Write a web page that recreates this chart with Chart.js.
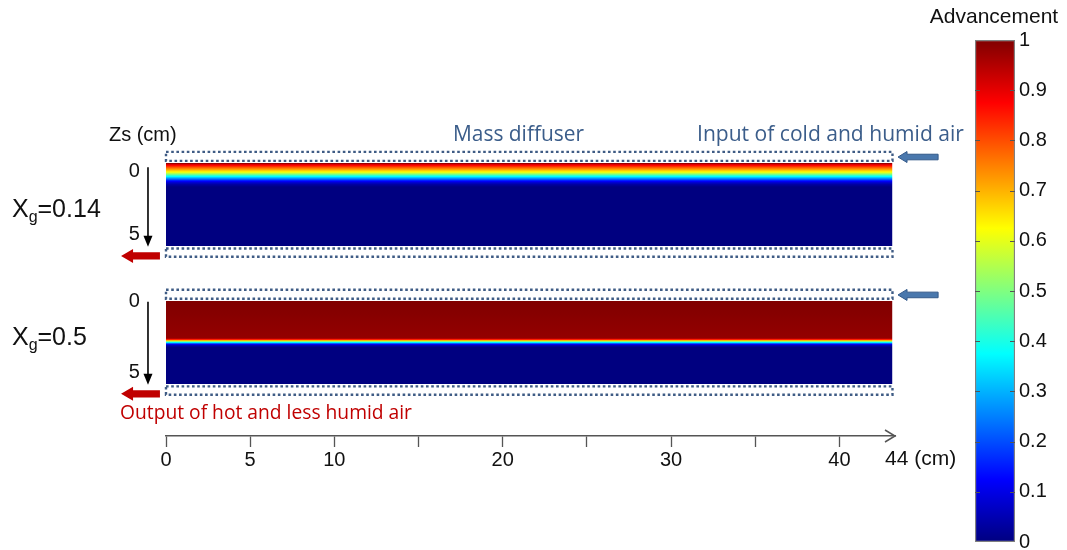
<!DOCTYPE html>
<html><head><meta charset="utf-8">
<script src="https://cdn.jsdelivr.net/npm/chart.js@4/dist/chart.umd.min.js"></script>
<style>
html,body{margin:0;padding:0;background:#fff;overflow:hidden;width:1067px;height:550px}
#main{position:absolute;left:0;top:0;width:1067px;height:550px}
#cb{position:absolute;left:921px;top:0;width:146px;height:550px}
</style></head><body>
<div id="main"><canvas id="c1" width="1067" height="550"></canvas></div>
<div id="cb"><canvas id="c2" width="146" height="550"></canvas></div>
<script>
// ---------------- data ----------------
const xgLabels = ['0.14', '0.5'];                 // gas mole fraction of each case
const channelLength = 43.15;                       // cm, drawn length of the bed
const axisEnd = 43.3;                              // cm, end of the x arrow
const panelOffset = [0, 8.31];                     // layout position (cm) of Zs = 0 for each case
// advancement profile vs depth Zs (cm), case Xg = 0.14
const depthA = [0, 0.1, 0.25, 0.4, 0.55, 0.65, 0.75, 0.85, 0.95, 1.05, 1.15, 1.3, 1.45, 5];
const advA   = [1.0, 0.9, 0.8, 0.71, 0.62, 0.53, 0.43, 0.34, 0.25, 0.16, 0.09, 0.03, 0, 0];
// advancement profile vs depth Zs (cm), case Xg = 0.5
const depthB = [0, 2.25, 2.35, 2.45, 2.55, 2.65, 2.8, 5];
const advB   = [1.0, 0.98, 0.8, 0.5, 0.25, 0.06, 0, 0];
const xTicks = [0, 5, 10, 15, 20, 25, 30, 35, 40];
const xTickLabels = ['0', '5', '10', '', '20', '', '30', '', '40'];
const cbTicks = [0, 0.1, 0.2, 0.3, 0.4, 0.5, 0.6, 0.7, 0.8, 0.9, 1];
const cbTickLabels = ['0', '0.1', '0.2', '0.3', '0.4', '0.5', '0.6', '0.7', '0.8', '0.9', '1'];

// ---------------- helpers ----------------
function clamp01(v){ return Math.max(0, Math.min(1, v)); }
function jet(v){
  v = clamp01(v);
  const r = clamp01(1.5 - Math.abs(4*v - 3));
  const g = clamp01(1.5 - Math.abs(4*v - 2));
  const b = clamp01(1.5 - Math.abs(4*v - 1));
  return 'rgb(' + Math.round(r*255) + ',' + Math.round(g*255) + ',' + Math.round(b*255) + ')';
}
function profileGradient(chart, offset, depths, advs){
  const ca = chart.chartArea;
  if (!ca) return jet(0);
  const y = chart.scales.y;
  const p0 = y.getPixelForValue(offset), p1 = y.getPixelForValue(offset + 5);
  const g = chart.ctx.createLinearGradient(0, p0, 0, p1);
  for (let i = 0; i < depths.length - 1; i++) {
    const n = 8;
    for (let k = 0; k < n; k++) {
      const t = k / n;
      const d = depths[i] + (depths[i+1] - depths[i]) * t;
      const a = advs[i] + (advs[i+1] - advs[i]) * t;
      g.addColorStop(clamp01(d / 5), jet(a));
    }
  }
  g.addColorStop(1, jet(advs[advs.length - 1]));
  return g;
}
function fitSize(ctx, text, family, target){
  ctx.font = '20px ' + family;
  return 20 * target / ctx.measureText(text).width;
}
function leftArrow(ctx, tipX, tailX, cy, headLen, headHalf, shaftHalf, fill, stroke){
  ctx.beginPath();
  ctx.moveTo(tipX, cy);
  ctx.lineTo(tipX + headLen, cy - headHalf);
  ctx.lineTo(tipX + headLen, cy - shaftHalf);
  ctx.lineTo(tailX, cy - shaftHalf);
  ctx.lineTo(tailX, cy + shaftHalf);
  ctx.lineTo(tipX + headLen, cy + shaftHalf);
  ctx.lineTo(tipX + headLen, cy + headHalf);
  ctx.closePath();
  ctx.fillStyle = fill; ctx.fill();
  if (stroke){ ctx.strokeStyle = stroke; ctx.lineWidth = 1; ctx.stroke(); }
}

const ARIAL = '"Liberation Sans", Arial, sans-serif';
const CAL = '"Open Sans", sans-serif';

// annotation plugin: diffusers, arrows, labels
const annotations = {
  id: 'annotations',
  afterDraw(chart){
    const ctx = chart.ctx, xs = chart.scales.x, ys = chart.scales.y;
    const X = v => xs.getPixelForValue(v), Y = v => ys.getPixelForValue(v);
    ctx.save();
    // dotted mass-diffuser strips
    ctx.strokeStyle = '#3f5c85'; ctx.lineWidth = 2.4; ctx.setLineDash([2.6, 2.6]);
    panelOffset.forEach(o => {
      [[o - 0.67, o - 0.13], [o + 5.15, o + 5.65]].forEach(([a, b]) => {
        ctx.strokeRect(X(0), Y(a), X(channelLength) - X(0), Y(b) - Y(a));
      });
    });
    ctx.setLineDash([]);
    const zeroLabelZ = [0.83, 0.34];
    const xgBaseZ = [3.23, 2.65];
    panelOffset.forEach((o, i) => {
      // inflow arrow (blue)
      leftArrow(ctx, X(43.48), X(45.86), Y(o - 0.36), 9, 5.5, 2.8, '#4a78ad', '#33598a');
      // outflow arrow (red)
      leftArrow(ctx, X(-2.67), X(-0.36), Y(o + 5.6), 12, 7, 3.6, '#c00000', null);
      // depth arrow (black)
      const ax = X(-1.07), y0 = Y(o + (i === 0 ? 0.25 : 0.05)), y1 = Y(o + 5.05);
      ctx.strokeStyle = '#000'; ctx.lineWidth = 1.6;
      ctx.beginPath(); ctx.moveTo(ax, y0); ctx.lineTo(ax, y1 - 9); ctx.stroke();
      ctx.fillStyle = '#000';
      ctx.beginPath(); ctx.moveTo(ax - 4.5, y1 - 11); ctx.lineTo(ax + 4.5, y1 - 11); ctx.lineTo(ax, y1); ctx.closePath(); ctx.fill();
      // depth labels
      ctx.fillStyle = '#111'; ctx.font = '20px ' + ARIAL; ctx.textAlign = 'right'; ctx.textBaseline = 'alphabetic';
      ctx.fillText('0', X(-1.55), Y(o + zeroLabelZ[i]));
      ctx.fillText('5', X(-1.55), Y(o + 4.64));
      // Xg labels
      let x = X(-9.15); const by = Y(o + xgBaseZ[i]);
      ctx.textAlign = 'left';
      ctx.font = '25px ' + ARIAL; ctx.fillText('X', x, by); x += ctx.measureText('X').width;
      ctx.font = '16px ' + ARIAL; ctx.fillText('g', x, by + 5); x += ctx.measureText('g').width;
      ctx.font = '25px ' + ARIAL; ctx.fillText('=' + xgLabels[i], x, by);
    });
    // Zs (cm)
    ctx.fillStyle = '#111'; ctx.textAlign = 'left'; ctx.font = '20px ' + ARIAL;
    ctx.fillText('Zs (cm)', X(-3.39), Y(-1.3));
    // blue / red texts
    const blue = '#3b5d8a';
    let s = fitSize(ctx, 'Mass diffuser', CAL, 131);
    ctx.font = s.toFixed(2) + 'px ' + CAL; ctx.fillStyle = blue;
    ctx.fillText('Mass diffuser', X(17.05), Y(-1.3));
    s = fitSize(ctx, 'Input of cold and humid air', CAL, 267);
    ctx.font = s.toFixed(2) + 'px ' + CAL;
    ctx.fillText('Input of cold and humid air', X(31.54), Y(-1.3));
    s = fitSize(ctx, 'Output of hot and less humid air', CAL, 292);
    ctx.font = s.toFixed(2) + 'px ' + CAL; ctx.fillStyle = '#c00000';
    ctx.fillText('Output of hot and less humid air', X(-2.73), Y(15.42));
    // x-axis arrow head and end label
    const ay = chart.chartArea.bottom, ex = X(axisEnd);
    ctx.strokeStyle = '#555'; ctx.lineWidth = 1.5;
    ctx.beginPath(); ctx.moveTo(ex - 10, ay - 6); ctx.lineTo(ex, ay); ctx.lineTo(ex - 10, ay + 6); ctx.stroke();
    ctx.fillStyle = '#111'; ctx.font = '21px ' + ARIAL; ctx.textAlign = 'left';
    ctx.fillText('44 (cm)', ex - 10, ay + 29);
    ctx.restore();
  }
};

const invisible = 'rgba(0,0,0,0)';
function boundary(y, fillOpt, bg){
  return { data: [{x: 0, y: y}, {x: channelLength, y: y}], borderColor: invisible, borderWidth: 0,
           pointRadius: 0, fill: fillOpt, backgroundColor: bg, tension: 0 };
}

new Chart(document.getElementById('c1'), {
  type: 'line',
  data: { datasets: [
    boundary(panelOffset[0], false, invisible),
    boundary(panelOffset[0] + 5, '-1', c => profileGradient(c.chart, panelOffset[0], depthA, advA)),
    boundary(panelOffset[1], false, invisible),
    boundary(panelOffset[1] + 5, '-1', c => profileGradient(c.chart, panelOffset[1], depthB, advB))
  ]},
  options: {
    responsive: false, animation: false, devicePixelRatio: 1,
    layout: { padding: { left: 166, right: 172, top: 163, bottom: 77 } },
    plugins: { legend: { display: false }, tooltip: { enabled: false } },
    scales: {
      x: { type: 'linear', min: 0, max: axisEnd,
           afterBuildTicks: s => { s.ticks = xTicks.map(v => ({ value: v })); },
           ticks: { callback: (v, i) => xTickLabels[i], autoSkip: false, maxRotation: 0,
                    font: { family: ARIAL, size: 20 }, color: '#111', padding: 1 },
           grid: { drawOnChartArea: false, tickLength: 11, tickColor: '#555', tickWidth: 1.3 },
           border: { color: '#555', width: 1.5 } },
      y: { type: 'linear', display: false, reverse: true, min: 0, max: 16.45 }
    }
  },
  plugins: [annotations]
});

// ---------------- colour bar ----------------
const cbExtras = {
  id: 'cbExtras',
  afterDatasetsDraw(chart){
    const ctx = chart.ctx, ca = chart.chartArea, y = chart.scales.y;
    ctx.save(); ctx.strokeStyle = '#555'; ctx.lineWidth = 1;
    cbTicks.forEach(v => {
      const p = Math.round(y.getPixelForValue(v)) + 0.5;
      if (v === 0 || v === 1) return;
      ctx.beginPath(); ctx.moveTo(ca.left, p); ctx.lineTo(ca.left + 5, p);
      ctx.moveTo(ca.right - 5, p); ctx.lineTo(ca.right, p); ctx.stroke();
    });
    // title
    ctx.fillStyle = '#111'; ctx.textAlign = 'center'; ctx.textBaseline = 'alphabetic';
    ctx.font = '21px ' + ARIAL;
    ctx.fillText('Advancement', (ca.left + ca.right) / 2 - 1, ca.top - 17);
    ctx.restore();
  }
};
new Chart(document.getElementById('c2'), {
  type: 'bar',
  data: { labels: ['Advancement'], datasets: [{
    data: [[0, 1]],
    backgroundColor: c => {
      const ch = c.chart; if (!ch.chartArea) return jet(0.5);
      const y = ch.scales.y;
      const g = ch.ctx.createLinearGradient(0, y.getPixelForValue(0), 0, y.getPixelForValue(1));
      for (let i = 0; i <= 32; i++) g.addColorStop(i / 32, jet(i / 32));
      return g;
    },
    borderColor: '#808080', borderWidth: 1.5, borderSkipped: false,
    barPercentage: 1, categoryPercentage: 1
  }]},
  options: {
    responsive: false, animation: false, devicePixelRatio: 1,
    layout: { padding: { left: 54, right: 0, top: 40, bottom: 8 } },
    plugins: { legend: { display: false }, tooltip: { enabled: false }, title: { display: false } },
    scales: {
      x: { display: false },
      y: { position: 'right', min: 0, max: 1,
           afterBuildTicks: s => { s.ticks = cbTicks.map(v => ({ value: v })); },
           afterFit: s => { s.width = 52; s.paddingTop = 0; s.paddingBottom = 0; },
           ticks: { callback: (v, i) => cbTickLabels[i], font: { family: ARIAL, size: 20 }, color: '#111', padding: 4 },
           grid: { display: false, drawTicks: false }, border: { display: false } }
    }
  },
  plugins: [cbExtras]
});
</script>
</body></html>
